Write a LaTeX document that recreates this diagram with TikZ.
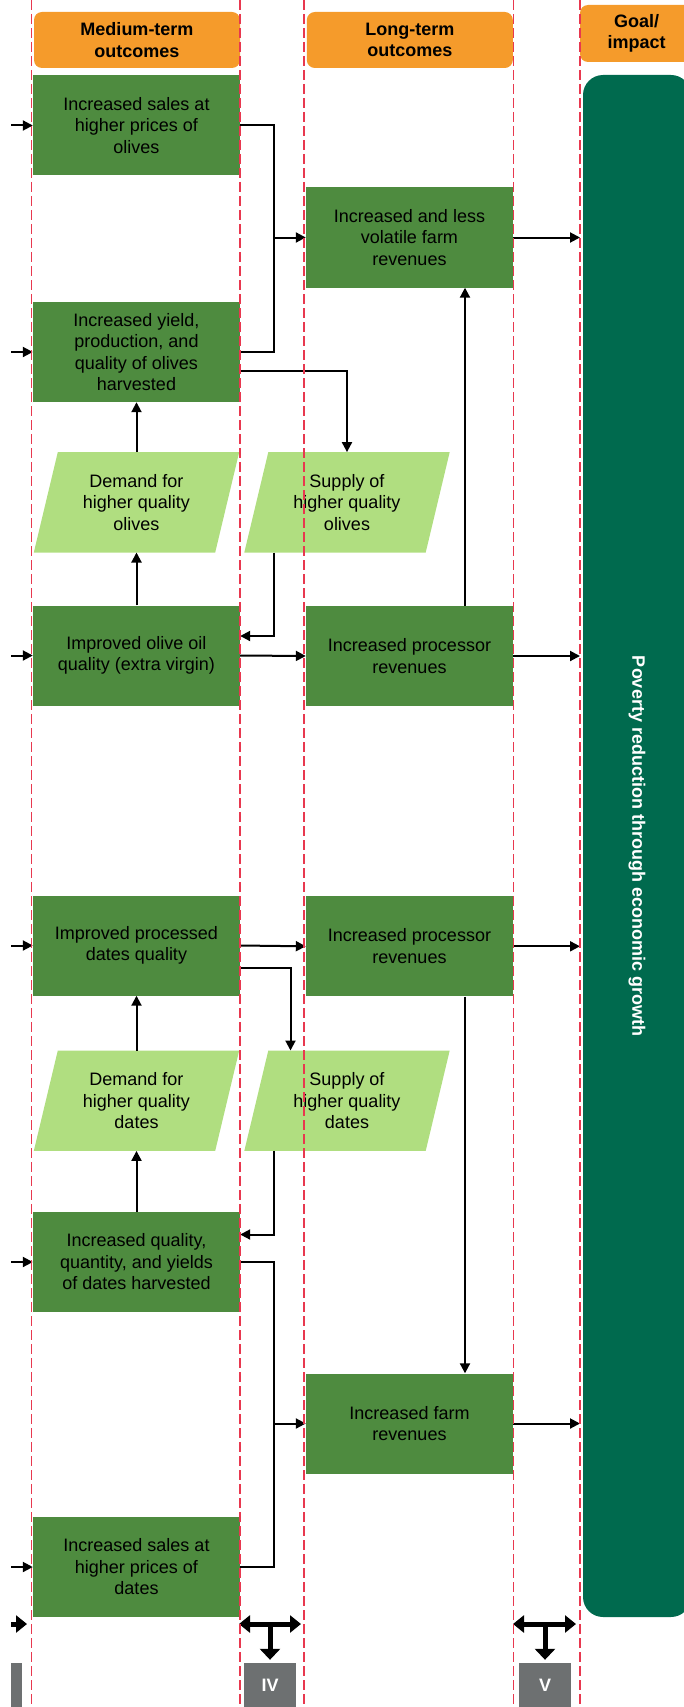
\documentclass[tikz,border=0pt]{standalone}
\usepackage{fontspec}
\setmainfont{Liberation Sans}
\usetikzlibrary{arrows.meta,calc}
\definecolor{boxg}{HTML}{4E8B3F}
\definecolor{lightg}{HTML}{B0DE80}
\definecolor{darkg}{HTML}{006A4E}
\definecolor{orng}{HTML}{F59B2B}
\definecolor{reddash}{HTML}{E8384F}
\definecolor{grayb}{HTML}{6D7071}
\pgfdeclarelayer{bg}
\pgfsetlayers{bg,main}
\newcommand{\txtfont}{\fontsize{18}{21.5}\selectfont}
\begin{document}
\begin{tikzpicture}[x=1pt,y=-1pt,
  box/.style={fill=boxg,minimum width=207pt,minimum height=100pt,inner sep=0pt,align=center,font=\txtfont},
  para/.style={minimum width=205pt,minimum height=100pt,inner sep=0pt,align=center,font=\txtfont},
  hdr/.style={fill=orng,rounded corners=8pt,inner sep=0pt,align=center,font=\bfseries\txtfont},
  ln/.style={line width=2pt},
  arr/.style={ln,-{Triangle[length=10pt,width=10pt]}},
  tarr/.style={line width=5pt,{Triangle[length=11pt,width=17pt]}-{Triangle[length=11pt,width=17pt]}},
  tstem/.style={line width=5pt,-{Triangle[length=11pt,width=20pt]}},
  rdash/.style={draw=reddash,line width=1.5pt,dash pattern=on 10pt off 4pt},
  gbox/.style={fill=grayb,inner sep=0pt,text=white,font=\bfseries\txtfont}
]
\useasboundingbox (0,0) rectangle (684,1707);
\clip (0,0) rectangle (684,1707);

% helper coordinates
\coordinate (xj) at (274,0);
\coordinate (xk) at (290.5,0);
\coordinate (xl) at (11,0);
\coordinate (gx) at (580,0);

% headers
\node[hdr,minimum width=206pt,minimum height=56pt] (hM) at (137,40) {Medium-term\\outcomes};
\node[hdr,minimum width=206pt,minimum height=56pt] (hL) at (409.8,40) {Long-term\\outcomes};
\node[hdr,minimum width=113pt,minimum height=57pt] (hG) at (636.5,33.5) {Goal/\\impact};

% goal box
\node[rotate=-90,fill=darkg,rounded corners=20pt,minimum width=1542pt,minimum height=108pt,
      inner sep=0pt,text=white,font=\bfseries\txtfont] (goal) at (637,846)
      {Poverty reduction through economic growth};

% column 1 boxes
\node[box] (A) at (136.5,125.5) {Increased sales at\\higher prices of\\olives};
\node[box] (B) at (136.5,352) {Increased yield,\\production, and\\quality of olives\\harvested};
\node[para] (dO) at (136.5,502.3) {Demand for\\higher quality\\olives};
\node[box] (C) at (136.5,655.5) {Improved olive oil\\quality (extra virgin)};
\node[box] (D) at (136.5,945.5) {Improved processed\\dates quality};
\node[para] (dD) at (136.5,1100.7) {Demand for\\higher quality\\dates};
\node[box] (E) at (136.5,1262) {Increased quality,\\quantity, and yields\\of dates harvested};
\node[box] (F) at (136.5,1567) {Increased sales at\\higher prices of\\dates};

% column 2 boxes
\node[box] (G) at (409.5,237.5) {Increased and less\\volatile farm\\revenues};
\node[para] (sO) at (347,502.3) {Supply of\\higher quality\\olives};
\node[box] (H) at (409.5,656) {Increased processor\\revenues};
\node[box] (I) at (409.5,946.3) {Increased processor\\revenues};
\node[para] (sD) at (347,1100.7) {Supply of\\higher quality\\dates};
\node[box] (J) at (409.5,1423.5) {Increased farm\\revenues};

% parallelogram fills
\begin{pgfonlayer}{bg}
\foreach \n in {dO,sO,dD,sD}
  \fill[lightg] (\n.south west) -- ([xshift=24pt]\n.north west) -- (\n.north east)
     -- ([xshift=-24pt]\n.south east) -- cycle;
\end{pgfonlayer}

% gray boxes
\node[gbox,minimum width=52pt,minimum height=44pt] (IV) at (270,1685) {IV};
\node[gbox,minimum width=52pt,minimum height=44pt] (V) at (545,1685) {V};
\node[gbox,minimum width=11pt,minimum height=44pt] (III) at (16.5,1685) {};

% incoming arrows on the left
\foreach \n in {A,B,C,D,E,F}
  \draw[arr] (\n.west -| xl) -- (\n.west);

% olives connectors
\draw[ln] (A.east) -| (G.west -| xj);
\draw[ln] (B.east) -| (G.west -| xj);
\draw[arr] (G.west -| xj) -- (G.west);
\draw[arr] ([yshift=-19pt]B.east) -| (sO.north);
\draw[arr] (dO.north) -- (B.south);
\draw[arr] (C.north) -- (dO.south);
\draw[arr] (sO.south -| xj) |- ([yshift=19.5pt]C.east);
\draw[arr] (C.east) -- (H.west);
\draw[arr] (H.east) -- (H.east -| gx);
\draw[arr] (G.east) -- (G.east -| gx);
\draw[arr] ([xshift=55.5pt]H.north) -- ([xshift=55.5pt]G.south);

% dates connectors
\draw[arr] (D.east) -- (I.west);
\draw[arr] ([yshift=-22.5pt]D.east) -| (sD.north -| xk);
\draw[arr] (I.east) -- (I.east -| gx);
\draw[arr] (dD.north) -- (D.south);
\draw[arr] (E.north) -- (dD.south);
\draw[arr] (sD.south -| xj) |- ([yshift=27.5pt]E.east);
\draw[ln] (E.east) -| (J.west -| xj);
\draw[ln] (F.east) -| (J.west -| xj);
\draw[arr] (J.west -| xj) -- (J.west);
\draw[arr] (J.east) -- (J.east -| gx);
\draw[arr] ([xshift=55.5pt]I.south) -- ([xshift=55.5pt]J.north);

% thick T arrows at the bottom
\coordinate (t1l) at (239,1624);
\coordinate (t1r) at (301,1624);
\coordinate (t1c) at (270,1624);
\coordinate (t2l) at (513,1624);
\coordinate (t2r) at (576,1624);
\coordinate (t2c) at (545,1624);
\coordinate (t0s) at (11,1624);
\coordinate (t0e) at (27,1624);
\draw[tarr] (t1l) -- (t1r);
\draw[tstem] (t1c) -- ([yshift=3pt]IV.north);
\draw[tarr] (t2l) -- (t2r);
\draw[tstem] (t2c) -- ([yshift=3pt]V.north);
\draw[line width=5pt,-{Triangle[length=11pt,width=17pt]}] (t0s) -- (t0e);

% red dashed column lines
\foreach \x in {31.5,240,304,513.5,580}
  \draw[rdash] (\x,0) -- (\x,1707);
\end{tikzpicture}
\end{document}
